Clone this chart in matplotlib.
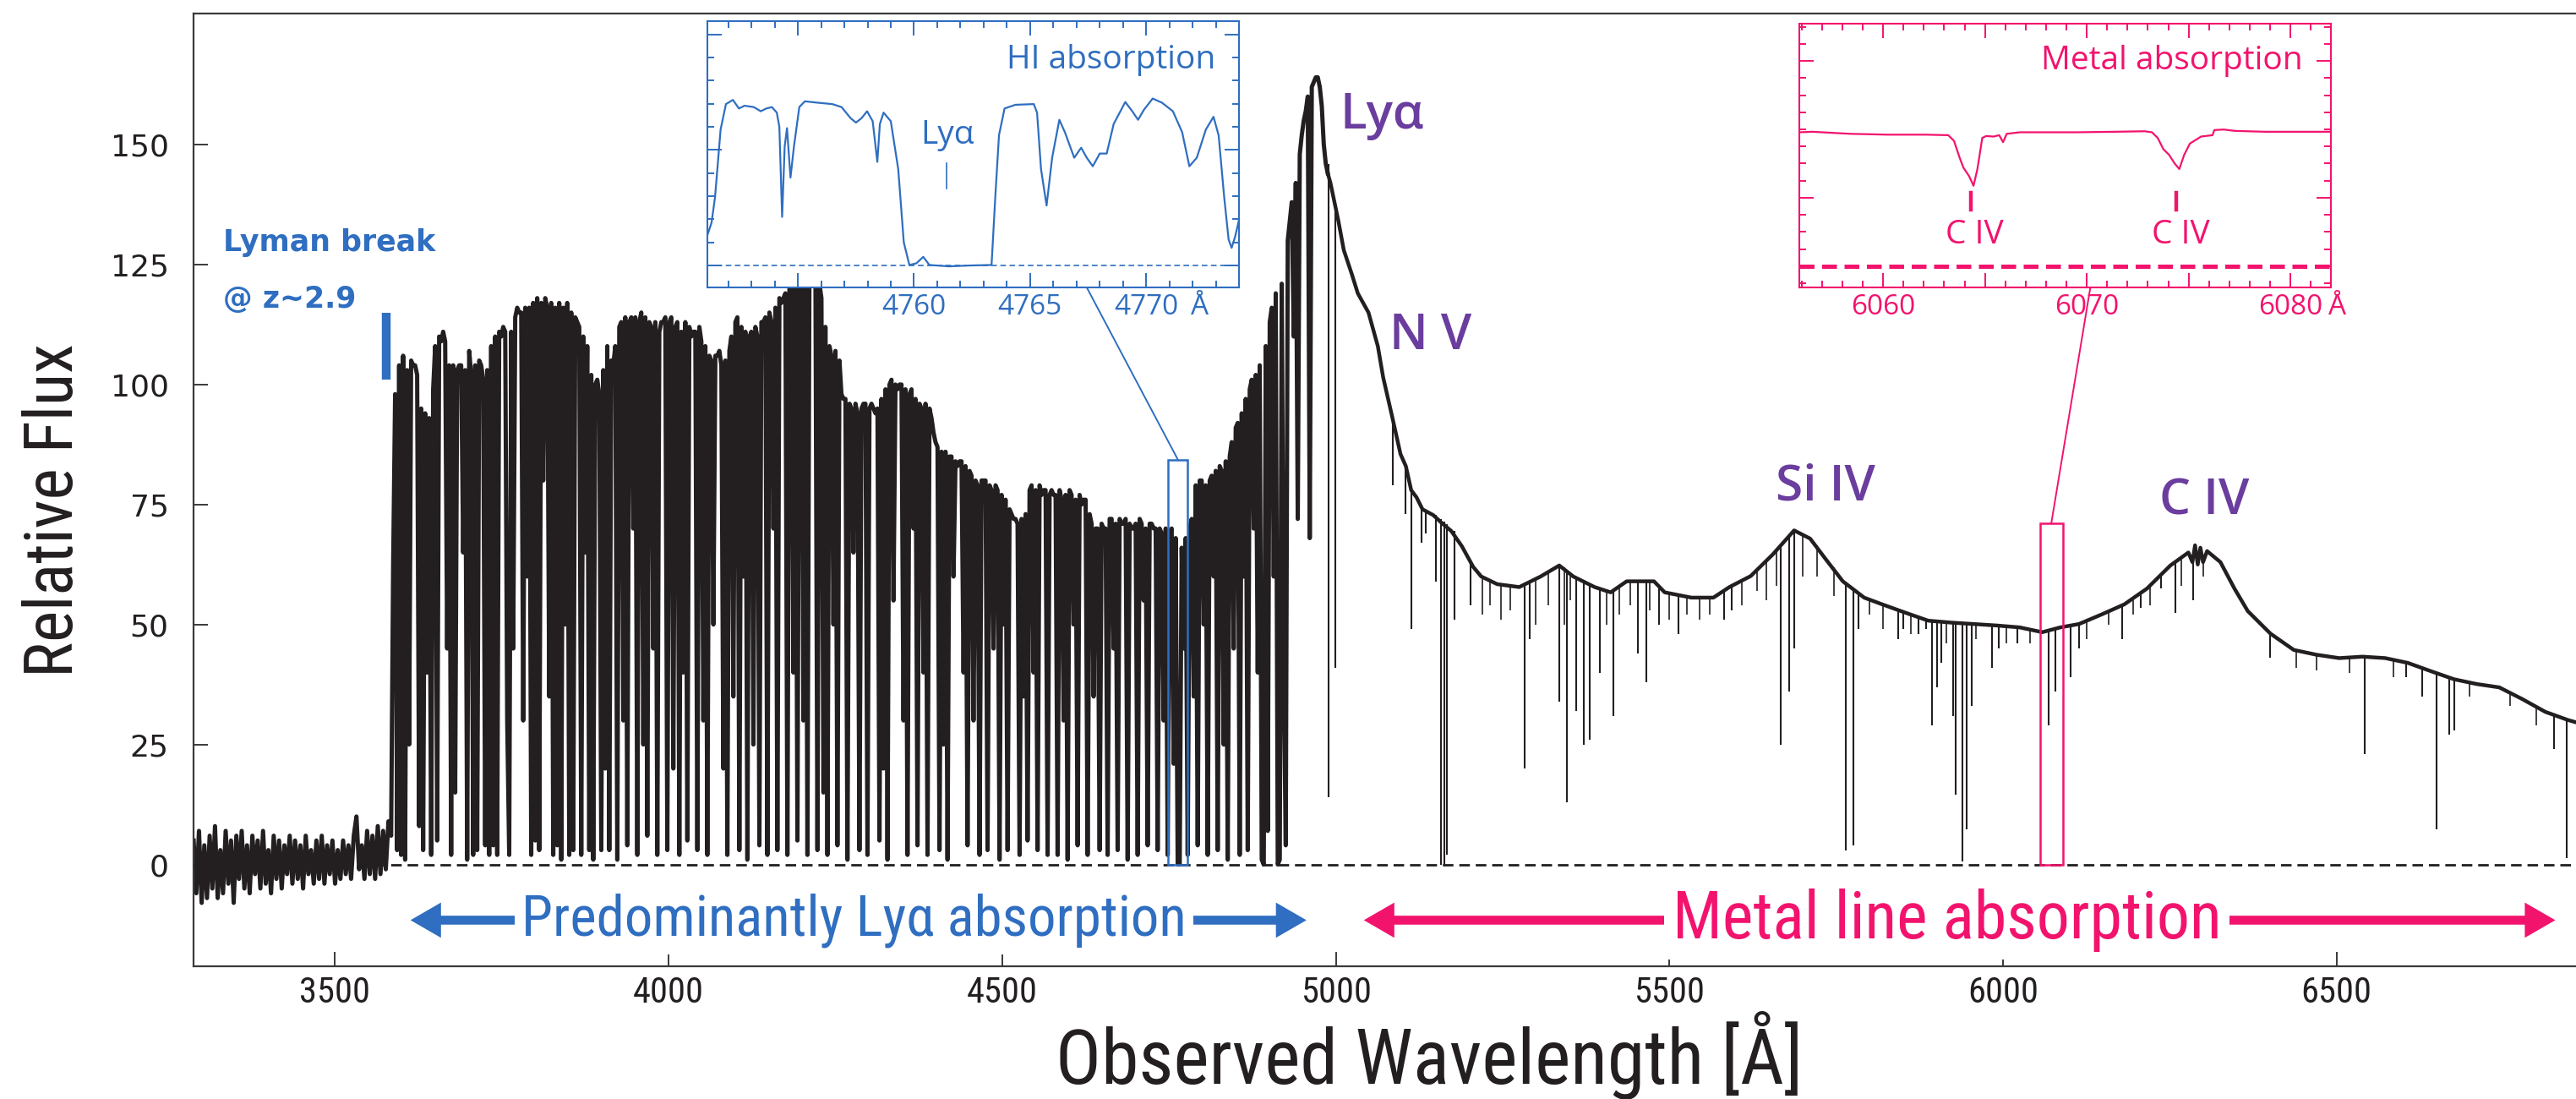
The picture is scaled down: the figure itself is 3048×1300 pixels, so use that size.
"""Quasar spectrum: Lyman break, Lyα forest and metal-line absorption, with two zoom insets."""

import matplotlib

matplotlib.use("Agg")
import matplotlib.pyplot as plt  # noqa: E402
import numpy as np  # noqa: E402
from matplotlib import font_manager  # noqa: E402
from matplotlib.patches import Rectangle  # noqa: E402
from matplotlib.ticker import FixedLocator, MultipleLocator  # noqa: E402

INK = "#231f20"
BLUE = "#2f6ec0"
PINK = "#f2136d"
PURPLE = "#6a3d9e"

_available = {f.name for f in font_manager.fontManager.ttflist}


def pick(*names):
    for n in names:
        if n in _available:
            return n
    return "DejaVu Sans"


NARROW = pick("Liberation Sans Narrow", "Roboto Condensed", "Lato")
NSCALE = 1.0 if NARROW == "Liberation Sans Narrow" else 0.85
HUMANIST = pick("Open Sans", "Noto Sans", "Lato")

# ---- main spectrum -------------------------------------------------------
# below the Lyman break: flux sampled every 4 Å from 3288 Å
NOISE_START, NOISE_STEP = 3288.0, 4.0
NOISE_FLUX = [
    5, -6, 7, -8, 4, -7, 6, -5, 8, -7,
    3, -6, 7, -4, 5, -8, 6, -3, 7, -5,
    4, -6, 6, -2, 5, -5, 7, -4, 3, -6,
    6, -3, 5, -5, 4, -2, 6, -4, 5, -3,
    4, -5, 6, -2, 3, -4, 5, -3, 6, -4,
    4, -2, 5, -4, 3, -3, 5, -2, 4, -3,
    6, 10, -1, 4, -3, 7, -2, 6, -3, 8,
    -2, 7, -1, 9,
]

# Lyα forest up to the Lyα emission peak: flux sampled every 3 Å from 3584 Å
FOREST_START, FOREST_STEP = 3584.0, 3.0
FOREST_FLUX = [
    6, 62, 98, 3, 104, 2, 106, 1, 103, 25,            # 3584
    105, 104, 104, 102, 8, 95, 3, 94, 40, 93,         # 3614
    2, 99, 108, 5, 110, 109, 111, 109, 45, 104,       # 3644
    2, 104, 15, 103, 104, 104, 65, 103, 1, 107,       # 3674
    102, 2, 104, 3, 105, 104, 101, 4, 103, 2,         # 3704
    108, 4, 110, 2, 111, 110, 112, 111, 30, 2,        # 3734
    111, 45, 114, 116, 115, 115, 30, 116, 60, 116,    # 3764
    2, 117, 5, 118, 3, 117, 80, 118, 116, 35,         # 3794
    117, 2, 116, 4, 117, 1, 116, 50, 117, 2,          # 3824
    115, 3, 114, 113, 112, 2, 110, 65, 108, 3,        # 3854
    102, 1, 100, 101, 98, 3, 103, 20, 108, 3,         # 3884
    105, 104, 108, 1, 112, 113, 30, 114, 4, 113,      # 3914
    114, 70, 114, 2, 113, 115, 25, 114, 6, 113,       # 3944
    112, 45, 113, 2, 111, 113, 113, 114, 3, 113,      # 3974
    114, 20, 112, 113, 2, 111, 40, 113, 5, 112,       # 4004
    110, 111, 111, 3, 112, 109, 30, 108, 2, 106,      # 4034
    105, 50, 106, 106, 107, 104, 20, 105, 2, 107,     # 4064
    110, 35, 113, 114, 3, 112, 60, 111, 1, 110,       # 4094
    111, 25, 112, 110, 4, 113, 113, 114, 2, 115,      # 4124
    113, 70, 116, 3, 118, 117, 118, 119, 2, 120,      # 4154
    121, 40, 123, 5, 124, 125, 30, 124, 2, 123,       # 4184
    122, 123, 124, 3, 121, 118, 15, 112, 2, 108,      # 4214
    106, 50, 107, 4, 105, 98, 97, 97, 1, 96,          # 4244
    95, 65, 96, 94, 3, 95, 96, 96, 2, 95,             # 4274
    96, 95, 94, 95, 5, 97, 20, 99, 1, 100,            # 4304
    101, 55, 100, 99, 100, 100, 30, 99, 2, 98,        # 4334
    99, 70, 97, 4, 96, 95, 40, 96, 2, 95,             # 4364
    93, 90, 88, 87, 3, 86, 25, 86, 1, 85,             # 4394
    85, 60, 84, 83, 84, 84, 40, 83, 4, 82,            # 4424
    81, 30, 80, 79, 2, 80, 80, 80, 3, 79,             # 4454
    78, 45, 79, 78, 1, 77, 50, 76, 3, 74,             # 4484
    73, 72, 72, 71, 2, 72, 35, 73, 5, 78,             # 4514
    79, 40, 78, 3, 79, 77, 78, 78, 2, 77,             # 4544
    78, 77, 77, 2, 78, 76, 30, 77, 1, 78,             # 4574
    77, 50, 76, 4, 77, 75, 76, 76, 2, 73,             # 4604
    71, 35, 70, 70, 3, 71, 70, 70, 2, 72,             # 4634
    72, 45, 71, 3, 72, 71, 71, 72, 1, 71,             # 4664
    70, 70, 71, 2, 72, 71, 55, 70, 4, 71,             # 4694
    71, 70, 70, 3, 70, 69, 30, 70, 2, 69,             # 4724
    70, 21, 68, 0, 0, 66, 45, 68, 2, 70,              # 4754
    72, 35, 79, 4, 80, 80, 50, 79, 2, 80,             # 4784
    81, 60, 82, 3, 83, 82, 25, 84, 1, 85,             # 4814
    88, 45, 91, 92, 2, 94, 60, 97, 3, 99,             # 4844
    101, 70, 102, 40, 104, 1, 0, 108, 7, 113,         # 4874
    116, 60, 119, 0, 1, 121, 40, 4, 130, 134,         # 4904
    138, 110, 142, 72, 148, 152, 155, 157, 160, 68,   # 4934
    162, 163, 164, 164, 162, 158, 150, 146, 144,      # 4964
]

# red side of Lyα: continuum + emission lines
CONT_WAVE = [
    4992, 5004, 5012, 5024, 5033, 5049, 5063, 5071, 5085, 5097,
    5105, 5113, 5121, 5130, 5146, 5160, 5173, 5189, 5206, 5218,
    5242, 5275, 5307, 5335, 5356, 5388, 5412, 5436, 5477, 5493,
    5533, 5566, 5590, 5622, 5655, 5687, 5711, 5735, 5760, 5792,
    5819, 5853, 5888, 5922, 5956, 5990, 6025, 6059, 6086, 6114,
    6148, 6182, 6216, 6251, 6278, 6284, 6288, 6292, 6296, 6300,
    6306, 6326, 6347, 6367, 6401, 6436, 6470, 6504, 6539, 6573,
    6607, 6641, 6676, 6710, 6744, 6778, 6813, 6847, 6862,
]
CONT_FLUX = [
    142, 134, 128, 123, 119, 115, 108, 101.5, 93, 85.5,
    83, 78, 76.5, 74, 72.8, 71, 69.5, 66.3, 62, 60,
    58.4, 57.8, 60, 62.3, 60, 57.8, 56.7, 59, 59, 56.7,
    55.6, 55.6, 57.8, 60.1, 64.6, 69.6, 67.9, 63.5, 59, 55.6,
    54.2, 52.5, 50.8, 50.4, 50.1, 49.8, 49.4, 48.4, 49.4, 50.1,
    52.1, 54.2, 57.5, 62.3, 65, 63, 66.5, 62.5, 66, 63,
    65.3, 63, 57.5, 52.8, 48.1, 44.7, 43.7, 43, 43.3, 43,
    42, 40.3, 38.6, 37.6, 36.9, 34.5, 31.8, 30.1, 29.5,
]

# strong narrow absorption lines longward of Lyα: centre, line bottom, local continuum
METAL_WAVE = [
    4989, 4999, 5086, 5105, 5113, 5129, 5135, 5150, 5158, 5163,
    5166, 5178, 5202, 5283, 5291, 5335, 5347, 5360, 5372, 5381,
    5396, 5416, 5453, 5465, 5485, 5513, 5582, 5594, 5667, 5679,
    5687, 5764, 5776, 5784, 5843, 5850, 5873, 5885, 5894, 5901,
    5908, 5925, 5929, 5939, 5946, 5953, 5983, 5994, 6021, 6069,
    6079, 6101, 6114, 6179, 6206, 6237, 6258, 6285, 6401, 6542,
    6604, 6628, 6650, 6669, 6676, 6826, 6845,
]
METAL_LOW = [
    14, 41, 79, 73, 49, 67, 69, 59, 0, 0,
    2, 51, 54, 20, 47, 34, 13, 32, 25, 26,
    40, 31, 44, 38, 50, 48, 51, 53, 25, 36,
    45, 3, 4, 49, 47, 49, 48, 49, 29, 37,
    42, 31, 14.5, 0.6, 7.4, 33, 41, 45, 46, 29,
    36, 39, 45, 47, 53.5, 57.5, 52.5, 55, 43, 23,
    39, 35, 7.4, 27, 28, 24, 1.3,
]
METAL_TOP = [
    146, 136, 92, 83, 78, 74, 73.6, 72.8, 72, 71.5,
    71, 69.5, 63, 58, 58.5, 62.3, 61, 60, 59, 58.5,
    57.5, 56.8, 59, 59, 57.5, 56, 57, 58, 66.5, 68.5,
    69.5, 58.5, 57, 56.3, 53, 52.7, 51.6, 51, 50.8, 50.7,
    50.6, 50.4, 50.4, 50.3, 50.2, 50.1, 49.9, 49.8, 49.5, 48.8,
    49, 49.8, 50.1, 54, 56.5, 60.5, 63, 64, 48.1, 43.3,
    42, 41, 40, 39, 38.6, 31, 30.3,
]
# weak lines that only nick the continuum
WEAK_WAVE = [
    5220, 5231, 5248, 5262, 5300, 5318, 5342, 5352, 5406, 5425,
    5442, 5470, 5500, 5526, 5545, 5560, 5609, 5632, 5645, 5660,
    5700, 5722, 5747, 5800, 5820, 5862, 5915, 5960, 6005, 6040,
    6125, 6158, 6195, 6220, 6268, 6300, 6440, 6470, 6520, 6585,
    6700, 6760, 6800,
]
WEAK_LOW = [
    52, 54, 51, 53, 50, 54, 50, 55, 50, 52,
    54, 53, 51, 52, 51, 52, 54, 57, 55, 58,
    60, 60, 56, 52, 49, 48, 46, 47, 46, 46,
    47, 50, 52, 54, 58, 60, 41, 40.5, 40, 39,
    35, 33, 29,
]
WEAK_TOP = [
    59.5, 59, 58.3, 58, 59.5, 60.8, 62, 60.5, 57, 58,
    59, 59, 56.5, 55.8, 55.6, 55.6, 59, 61, 63, 65.5,
    69, 66.5, 62, 55.5, 54.2, 52, 50.5, 50.1, 49.7, 49.2,
    50.5, 52.7, 55, 58, 64, 64, 44.6, 43.7, 43.1, 42.8,
    37.9, 36, 32.5,
]

MAIN_XTICKS = [3500, 4000, 4500, 5000, 5500, 6000, 6500]
MAIN_YTICKS = [0, 25, 50, 75, 100, 125, 150]

EMISSION_LABELS = ["Lyα", "N V", "Si IV", "C IV"]
EMISSION_X = [5006, 5081, 5659, 6234]
EMISSION_Y = [156, 110, 78.5, 75.5]

# ---- insets ----------------------------------------------------------------
HI_WAVE = [
    4751.12, 4751.28, 4751.43, 4751.67, 4751.90, 4752.20, 4752.46, 4752.70, 4753.10, 4753.40,
    4753.64, 4753.88, 4754.09, 4754.20, 4754.32, 4754.43, 4754.53, 4754.68, 4754.83, 4755.06,
    4755.30, 4755.85, 4756.48, 4756.88, 4757.27, 4757.50, 4757.74, 4757.98, 4758.22, 4758.42,
    4758.53, 4758.69, 4759.00, 4759.32, 4759.56, 4759.80, 4760.10, 4760.40, 4760.66, 4761.50,
    4762.48, 4763.34, 4763.50, 4763.66, 4763.90, 4764.37, 4765.16, 4765.30, 4765.47, 4765.71,
    4765.95, 4766.26, 4766.50, 4766.90, 4767.20, 4767.44, 4767.70, 4768.00, 4768.30, 4768.60,
    4769.10, 4769.40, 4769.65, 4769.90, 4770.28, 4770.68, 4771.15, 4771.55, 4771.86, 4772.18,
    4772.57, 4772.90, 4773.12, 4773.36, 4773.55, 4773.68, 4773.83, 4774.00,
]
HI_FLUX = [
    13.7, 18.5, 29.5, 58.8, 69.8, 71.6, 67.9, 69.1, 68.5, 66.7,
    67.9, 68.5, 66.1, 60.0, 21.0, 51.5, 59.4, 38.0, 51.5, 68.5,
    71.0, 70.4, 69.8, 68.5, 63.7, 61.8, 63.7, 66.7, 62.4, 44.8,
    61.2, 66.1, 62.4, 41.7, 10.0, 0.2, 0.9, 3.7, 0.2, -0.4,
    0.0, 0.2, 29.5, 56.3, 67.9, 69.5, 69.8, 66.1, 41.7, 25.9,
    46.6, 63.0, 57.6, 46.6, 50.9, 46.6, 42.9, 48.4, 48.4, 61.2,
    70.7, 66.7, 63.0, 67.3, 72.2, 70.4, 66.7, 57.6, 42.9, 46.6,
    58.8, 64.3, 56.3, 29.5, 11.2, 7.6, 12.4, 19.8,
]

METAL_IN_WAVE = [
    6055.89, 6056.54, 6058.39, 6060.24, 6062.09, 6063.20, 6063.48, 6063.76, 6063.94, 6064.22,
    6064.44, 6064.63, 6064.87, 6065.06, 6065.43, 6065.70, 6065.89, 6066.07, 6066.72, 6069.50,
    6071.35, 6072.83, 6073.20, 6073.48, 6073.76, 6074.04, 6074.31, 6074.54, 6074.78, 6075.06,
    6075.61, 6076.17, 6076.26, 6076.72, 6077.28, 6078.76, 6080.61, 6082.00,
]
METAL_IN_FLUX = [
    7.83, 7.86, 7.74, 7.69, 7.69, 7.66, 7.33, 6.34, 5.77, 5.27,
    4.70, 5.68, 7.50, 7.61, 7.58, 7.66, 7.25, 7.74, 7.83, 7.83,
    7.86, 7.89, 7.83, 7.50, 6.84, 6.51, 6.01, 5.68, 6.51, 7.17,
    7.58, 7.66, 7.96, 7.99, 7.91, 7.86, 7.86, 7.86,
]
CIV_MARKS = [6064.3, 6074.4]


def style_inset(ax, color):
    for s in ax.spines.values():
        s.set_color(color)
        s.set_linewidth(1.5)
    ax.tick_params(which="both", direction="in", top=True, right=True, colors=color,
                   labelleft=False, width=1.4, labelsize=24, pad=5)
    ax.tick_params(which="major", length=12)
    ax.tick_params(which="minor", length=6)
    for lbl in ax.get_xticklabels():
        lbl.set_fontfamily(HUMANIST)


def region_arrow(ax, x0, x1, y, xtext, label, color, size):
    for end in (x0, x1):
        ax.annotate("", xy=(end, y), xytext=(xtext, y), zorder=5,
                    arrowprops=dict(arrowstyle="simple,head_length=1.3,head_width=1.5,tail_width=0.38",
                                    mutation_scale=20, color=color, lw=0, shrinkA=0, shrinkB=0))
    ax.text(xtext, y, label, ha="center", va="center", color=color, fontsize=size,
            family=NARROW, zorder=6,
            bbox=dict(boxstyle="square,pad=0.12", fc="white", ec="none"))


def main():
    fig = plt.figure(figsize=(30.48, 13.0), dpi=100)
    ax = fig.add_axes([0.0751, 0.1208, 0.9249, 0.8669])

    noise_wave = NOISE_START + NOISE_STEP * np.arange(len(NOISE_FLUX))
    forest_wave = FOREST_START + FOREST_STEP * np.arange(len(FOREST_FLUX))
    ax.plot(np.r_[noise_wave, forest_wave], np.r_[NOISE_FLUX, FOREST_FLUX],
            color=INK, lw=3.6, zorder=2)
    ax.plot(np.r_[forest_wave[-1], CONT_WAVE], np.r_[FOREST_FLUX[-1], CONT_FLUX],
            color=INK, lw=3.2, zorder=2)
    ax.vlines(METAL_WAVE, METAL_LOW, METAL_TOP, color=INK, lw=1.5, zorder=2)
    ax.vlines(WEAK_WAVE, WEAK_LOW, WEAK_TOP, color=INK, lw=1.2, zorder=2)
    ax.axhline(0, color=INK, lw=2.0, ls=(0, (4.5, 2.5)), zorder=3)

    ax.set_xlim(3287.7, 6859)
    ax.set_ylim(-21.2, 177.3)
    ax.set_xticks(MAIN_XTICKS)
    ax.set_yticks(MAIN_YTICKS)
    ax.tick_params(direction="in", length=12, width=1.4, colors="#3a3a3a", labelcolor=INK)
    ax.tick_params(axis="y", pad=21, labelsize=26)
    ax.tick_params(axis="x", pad=8, labelsize=36 * NSCALE)
    for lbl in ax.get_xticklabels():
        lbl.set_fontfamily(NARROW)
    ax.spines["right"].set_visible(False)
    for s in ("left", "bottom", "top"):
        ax.spines[s].set_linewidth(1.6)
        ax.spines[s].set_color("#3a3a3a")

    ax.set_xlabel("Observed Wavelength [Å]", family=NARROW, fontsize=76 * NSCALE, color=INK)
    ax.xaxis.label.set_va("center")
    ax.xaxis.set_label_coords(0.5186, -0.094)
    ax.set_ylabel("Relative Flux", family=NARROW, fontsize=67 * NSCALE, color=INK)
    ax.yaxis.label.set_va("center")
    ax.yaxis.set_label_coords(-0.0585, 0.479)

    # emission line labels
    for lab, x, y in zip(EMISSION_LABELS, EMISSION_X, EMISSION_Y):
        ax.text(x, y, lab, ha="left", va="center", color=PURPLE, fontsize=42,
                family=HUMANIST, weight="semibold")

    # Lyman break marker
    ax.plot([3577, 3577], [101, 115], color=BLUE, lw=7.5, solid_capstyle="butt")
    ax.text(3332, 129.6, "Lyman break", color=BLUE, fontsize=25, weight="bold",
            ha="left", va="center")
    ax.text(3332, 117.8, "@ z~2.9", color=BLUE, fontsize=25, weight="bold",
            ha="left", va="center")

    # region arrows
    region_arrow(ax, 3613, 4956, -11.6, 4278, "Predominantly Lyα absorption", BLUE, 56.5 * NSCALE)
    region_arrow(ax, 5042, 6828, -11.6, 5916, "Metal line absorption", PINK, 66 * NSCALE)

    # zoom boxes and connectors
    ax.add_patch(Rectangle((4748, 0), 30, 84.3, fill=False, ec=BLUE, lw=1.8, zorder=4))
    ax.plot([4626.8, 4763.5], [120.2, 84.3], color=BLUE, lw=1.4, clip_on=False, zorder=4)
    ax.add_patch(Rectangle((6056, 0), 34, 71.1, fill=False, ec=PINK, lw=1.8, zorder=4))
    ax.plot([6131, 6072.5], [120.2, 71.1], color=PINK, lw=1.4, clip_on=False, zorder=4)

    # HI inset
    a = fig.add_axes([0.2746, 0.7385, 0.2064, 0.2423])
    a.plot(HI_WAVE, HI_FLUX, color=BLUE, lw=1.6)
    a.axhline(0, color=BLUE, lw=1.2, ls=(0, (4, 2.5)))
    a.set_xlim(4751.1, 4774.0)
    a.set_ylim(-9.5, 105.7)
    a.xaxis.set_major_locator(FixedLocator([4755, 4760, 4765, 4770]))
    a.xaxis.set_minor_locator(MultipleLocator(1))
    a.set_xticklabels(["", "4760", "4765", "4770"])
    a.yaxis.set_major_locator(MultipleLocator(50))
    a.yaxis.set_minor_locator(MultipleLocator(10))
    style_inset(a, BLUE)
    a.text(4772.3, -0.075, "Å", transform=a.get_xaxis_transform(), ha="center", va="center",
           color=BLUE, fontsize=24, family=HUMANIST, clip_on=False)
    a.text(4773.0, 88.7, "HI absorption", ha="right", va="center", color=BLUE,
           fontsize=28, family=HUMANIST)
    a.text(4761.45, 56.3, "Lyα", ha="center", va="center", color=BLUE, fontsize=28,
           family=HUMANIST)
    a.plot([4761.4, 4761.4], [33.4, 44.1], color=BLUE, lw=1.2)

    # metal inset
    b = fig.add_axes([0.6985, 0.7385, 0.2065, 0.2398])
    b.plot(METAL_IN_WAVE, METAL_IN_FLUX, color=PINK, lw=1.6)
    b.axhline(0, color=PINK, lw=3.6, ls=(0, (3.5, 1.8)))
    b.set_xlim(6055.89, 6082.0)
    b.set_ylim(-1.24, 14.17)
    b.xaxis.set_major_locator(FixedLocator([6060, 6065, 6070, 6075, 6080]))
    b.xaxis.set_minor_locator(MultipleLocator(1))
    b.set_xticklabels(["6060", "", "6070", "", "6080"])
    b.yaxis.set_major_locator(FixedLocator([4, 12]))
    b.yaxis.set_minor_locator(MultipleLocator(1))
    style_inset(b, PINK)
    b.text(6082.3, -0.075, "Å", transform=b.get_xaxis_transform(), ha="center", va="center",
           color=PINK, fontsize=24, family=HUMANIST, clip_on=False)
    b.text(6080.6, 12.0, "Metal absorption", ha="right", va="center", color=PINK,
           fontsize=28, family=HUMANIST)
    for x in CIV_MARKS:
        b.plot([x, x], [3.29, 4.28], color=PINK, lw=3.2)
        b.text(x + 0.2, 1.81, "C IV", ha="center", va="center", color=PINK, fontsize=28,
               family=HUMANIST)

    fig.savefig("out.png", dpi=100)


if __name__ == "__main__":
    main()
